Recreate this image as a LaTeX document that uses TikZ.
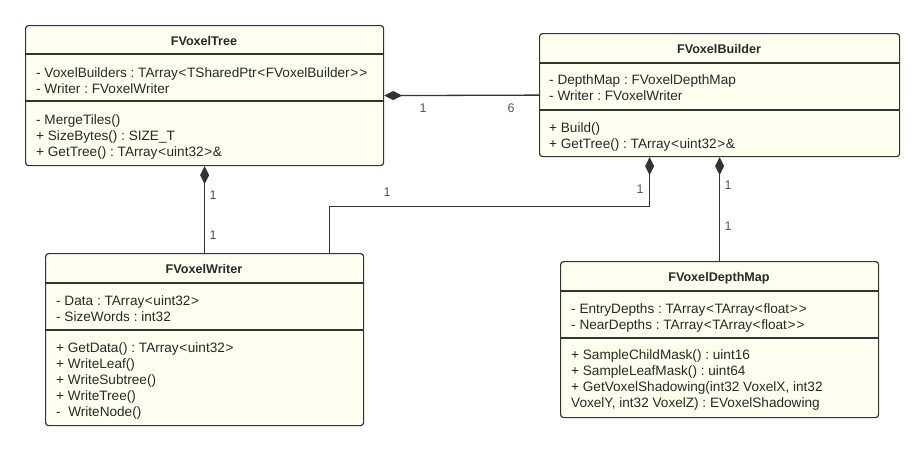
\documentclass[tikz,border=0pt]{standalone}
\usepackage{fontspec}
\setmainfont{Liberation Sans}
\usetikzlibrary{arrows.meta,positioning}
\definecolor{classfill}{RGB}{255,255,240}
\definecolor{umlline}{RGB}{51,51,51}
\definecolor{umltext}{RGB}{40,40,40}
\definecolor{multtext}{RGB}{85,85,85}
\frenchspacing
% wider angle brackets, as in the drawing
\newcommand\la{\kern0.6pt<\kern0.6pt}
\newcommand\ra{\kern0.6pt>\kern0.6pt}

\begin{document}
\begin{tikzpicture}[y=-1pt,x=1pt,
	classbox/.style={draw=umlline, line width=1.2pt, fill=classfill, rounded corners=3pt, anchor=north west, inner sep=0pt},
	classname/.style={inner sep=0pt, text=umltext, font=\bfseries\fontsize{12.6}{15}\selectfont},
	members/.style={anchor=north west, align=left, inner sep=0pt, text=umltext, font=\fontsize{13.6}{16.2}\selectfont},
	separator/.style={draw=umlline, line width=1.2pt},
	composition/.style={draw=umlline, line width=1.3pt, {Diamond[length=18pt,width=9pt]}-},
	mult/.style={inner sep=0pt, text=multtext, font=\fontsize{12.5}{14}\selectfont}]
	\newcommand\Split[2]{(#1.west |- 0,#2) -- (#1.east |- 0,#2)}

	\useasboundingbox (0,0) rectangle (923,450);

	% classes
	\node[classbox, minimum width=358pt, minimum height=140pt] (tree) at (25,25) {};
	\node[classbox, minimum width=360pt, minimum height=123pt] (builder) at (539,33) {};
	\node[classbox, minimum width=318pt, minimum height=172pt] (writer) at (45,253) {};
	\node[classbox, minimum width=318pt, minimum height=156pt] (depthmap) at (560,261) {};

	\draw[separator] \Split{tree}{54} \Split{tree}{101};
	\draw[separator] \Split{builder}{63} \Split{builder}{110};
	\draw[separator] \Split{writer}{283} \Split{writer}{330};
	\draw[separator] \Split{depthmap}{291} \Split{depthmap}{338};

	\node[classname] (treename) at (204,41) {FVoxelTree};
	\node[members] (treeattr) at (36,67) {- VoxelBuilders : TArray\la TSharedPtr\la FVoxelBuilder\ra\ra\\- Writer : FVoxelWriter};
	\node[members] (treeops) at (36,114) {- MergeTiles()\\+ SizeBytes() : SIZE\_T\\+ GetTree() : TArray\la uint32\ra\&};

	\node[classname] (buildername) at (719,49) {FVoxelBuilder};
	\node[members] (builderattr) at (549,74) {- DepthMap : FVoxelDepthMap\\- Writer : FVoxelWriter};
	\node[members] (builderops) at (549,122) {+ Build()\\+ GetTree() : TArray\la uint32\ra\&};

	\node[classname] (writername) at (204,269) {FVoxelWriter};
	\node[members] (writerattr) at (56,295) {- Data : TArray\la uint32\ra\\- SizeWords : int32};
	\node[members] (writerops) at (56,342) {+ GetData() : TArray\la uint32\ra\\+ WriteLeaf()\\+ WriteSubtree()\\+ WriteTree()\\-\ \ WriteNode()};

	\node[classname] (depthmapname) at (719,278) {FVoxelDepthMap};
	\node[members] (depthmapattr) at (571,303) {- EntryDepths : TArray\la TArray\la float\ra\ra\\- NearDepths : TArray\la TArray\la float\ra\ra};
	\node[members] (depthmapops) at (571,349) {+ SampleChildMask() : uint16\\+ SampleLeafMask() : uint64\\+ GetVoxelShadowing(int32 VoxelX, int32\\VoxelY, int32 VoxelZ) : EVoxelShadowing};

	% compositions
	\draw[composition] (tree.east) -- (builder.west);
	\draw[composition] (tree.south) -- (writer.north);
	\draw[composition] ([xshift=-70pt]builder.south) -- ++(0,49) -| ([xshift=125pt]writer.north);
	\draw[composition] (builder.south) -- (depthmap.north);

	\node[mult] at (423,108) {1};
	\node[mult] at (511,108) {6};
	\node[mult] at (213,195) {1};
	\node[mult] at (213,235) {1};
	\node[mult] at (387,192) {1};
	\node[mult] at (640,189) {1};
	\node[mult] at (728,185) {1};
	\node[mult] at (728,226) {1};

\end{tikzpicture}
\end{document}
